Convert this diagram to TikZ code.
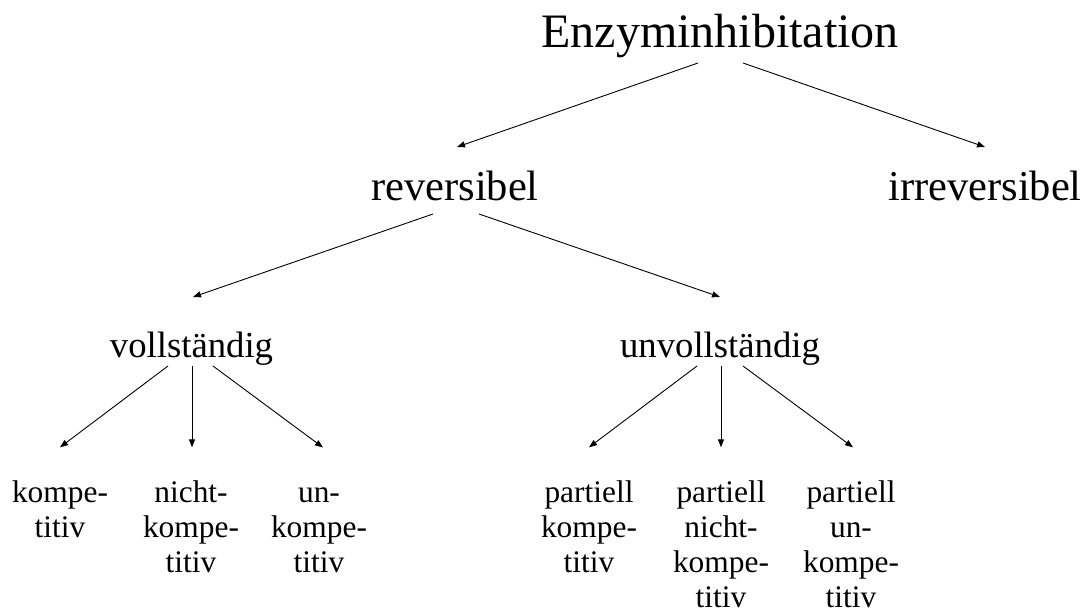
\documentclass[tikz,border=0pt]{standalone}
\usepackage{fontspec}
\setmainfont{Liberation Serif}
\usetikzlibrary{arrows.meta}
\tikzset{
  lbl/.style={inner sep=0pt, anchor=base, align=center},
  top/.style={lbl, font=\fontsize{48}{55}\selectfont},
  lvtwo/.style={lbl, font=\fontsize{42.5}{49}\selectfont},
  lvthree/.style={lbl, font=\fontsize{36.7}{42}\selectfont},
  leaf/.style={lbl, font=\fontsize{31.4}{35}\selectfont},
  arr/.style={line width=0.9pt, -{Triangle[length=8pt,width=6pt]}}
}
\begin{document}
\begin{tikzpicture}[x=1pt,y=-1pt]
\useasboundingbox (0,0) rectangle (1087,610);
\node[top] (E) at (720,48) {Enzyminhibitation};
\node[lvtwo] (rev) at (455,200) {reversibel};
\node[lvtwo] (irr) at (985,200) {irreversibel};
\node[lvthree] (voll) at (191.5,357) {vollständig};
\node[lvthree] (unvoll) at (720,357) {unvollständig};
% base anchor = baseline of the last line; first baseline at 502, line step 35
\node[leaf] (k) at (60,537) {kompe-\\titiv};
\node[leaf] (nk) at (191,572) {nicht-\\kompe-\\titiv};
\node[leaf] (uk) at (319,572) {un-\\kompe-\\titiv};
\node[leaf] (pk) at (589,572) {partiell\\kompe-\\titiv};
\node[leaf] (pnk) at (721,607) {partiell\\nicht-\\kompe-\\titiv};
\node[leaf] (puk) at (851,607) {partiell\\un-\\kompe-\\titiv};
\draw[arr] ([shift={(-22pt,-15pt)}]E.base) -- ([shift={(2pt,53pt)}]rev.base);
\draw[arr] ([shift={(23pt,-15pt)}]E.base) -- ([shift={(0pt,53pt)}]irr.base);
\draw[arr] ([shift={(-22pt,-14pt)}]rev.base) -- ([shift={(1.5pt,60pt)}]voll.base);
\draw[arr] ([shift={(24pt,-14pt)}]rev.base) -- ([shift={(0pt,60pt)}]unvoll.base);
\draw[arr] ([shift={(-23.5pt,-9pt)}]voll.base) -- ([shift={(0pt,32.7pt)}]k.north);
\draw[arr] ([shift={(0.5pt,-9pt)}]voll.base) -- ([shift={(1pt,32.7pt)}]nk.north);
\draw[arr] ([shift={(21.5pt,-9pt)}]voll.base) -- ([shift={(4pt,39.5pt)}]uk.north);
\draw[arr] ([shift={(-23pt,-9pt)}]unvoll.base) -- ([shift={(0pt,32.7pt)}]pk.north);
\draw[arr] ([shift={(1pt,-9pt)}]unvoll.base) -- ([shift={(0pt,32.7pt)}]pnk.north);
\draw[arr] ([shift={(23pt,-9pt)}]unvoll.base) -- ([shift={(2pt,32.7pt)}]puk.north);
\end{tikzpicture}
\end{document}
